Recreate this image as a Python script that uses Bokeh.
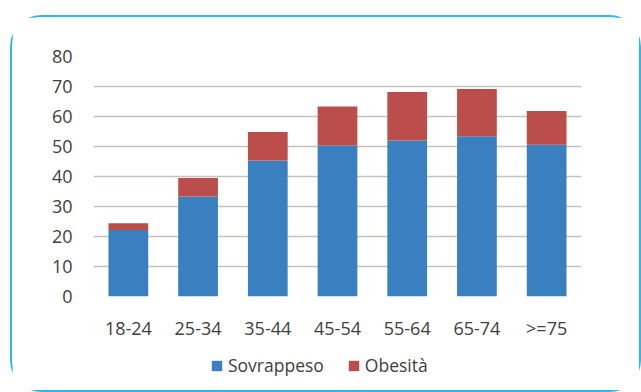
from bokeh.plotting import figure
from bokeh.layouts import column
from bokeh.models import ColumnDataSource, Legend, LegendItem, FixedTicker, Range1d
from bokeh.embed import file_html
from bokeh.resources import INLINE

categories = ["18-24", "25-34", "35-44", "45-54", "55-64", "65-74", ">=75"]
sovrappeso = [22.2, 33.3, 45.3, 50.3, 52.0, 53.4, 50.6]
obesita = [2.2, 6.2, 9.5, 13.0, 16.2, 15.8, 11.2]
series = ["Sovrappeso", "Obesità"]
colors = ["#3a7fc0", "#bb4d4b"]
y_ticks = [0, 10, 20, 30, 40, 50, 60, 70, 80]

src = ColumnDataSource(dict(cat=categories, Sovrappeso=sovrappeso, Obesità=obesita))

FONT = "Open Sans"
p = figure(x_range=categories, y_range=(0, 80), width=627, height=335,
           output_backend="svg", toolbar_location=None,
           min_border_left=81, min_border_right=58, min_border_top=39, min_border_bottom=56)
p.background_fill_color = "white"
p.border_fill_color = "white"
p.outline_line_color = None

rs = p.vbar_stack(series, x="cat", width=0.57, source=src, color=colors, line_color=None)

p.yaxis.ticker = FixedTicker(ticks=y_ticks)
p.ygrid.ticker = FixedTicker(ticks=y_ticks)
p.ygrid.grid_line_color = "#c9c1bd"
p.ygrid.grid_line_width = 1.5
p.xgrid.grid_line_color = None

for ax in (p.xaxis, p.yaxis):
    ax.axis_line_color = None
    ax.major_tick_line_color = None
    ax.minor_tick_line_color = None
    ax.major_label_text_font = FONT
    ax.major_label_text_font_size = "18px"
    ax.major_label_text_color = "#404040"
p.yaxis.major_label_standoff = 15
p.xaxis.major_label_standoff = 13

# legend strip below the chart (swatch renderers sit outside the visible range)
pl = figure(width=627, height=38, output_backend="svg", toolbar_location=None,
            x_range=Range1d(0, 1), y_range=Range1d(0, 1),
            min_border=0, min_border_left=0, min_border_right=0,
            min_border_top=0, min_border_bottom=0)
pl.axis.visible = False
pl.grid.visible = False
pl.outline_line_color = None
pl.background_fill_color = "white"
pl.border_fill_color = "white"
swatches = [pl.rect(x=[-5], y=[-5], width=0.1, height=0.1, color=c, line_color=None)
            for c in colors]

legend = Legend(items=[LegendItem(label=s, renderers=[r]) for s, r in zip(series, swatches)],
                location=(117, 13), orientation="horizontal",
                label_text_font=FONT, label_text_font_size="17.5px", label_text_color="#404040",
                glyph_width=13, glyph_height=13, label_standoff=5, spacing=23,
                padding=0, margin=0, border_line_color=None, background_fill_alpha=0)
pl.add_layout(legend, "center")

layout = column(p, pl, styles={"margin-left": "10px", "margin-top": "15px",
                               "border": "2px solid #2cb8ec", "border-radius": "32px"})

open("out.html", "w").write(file_html(layout, INLINE))
